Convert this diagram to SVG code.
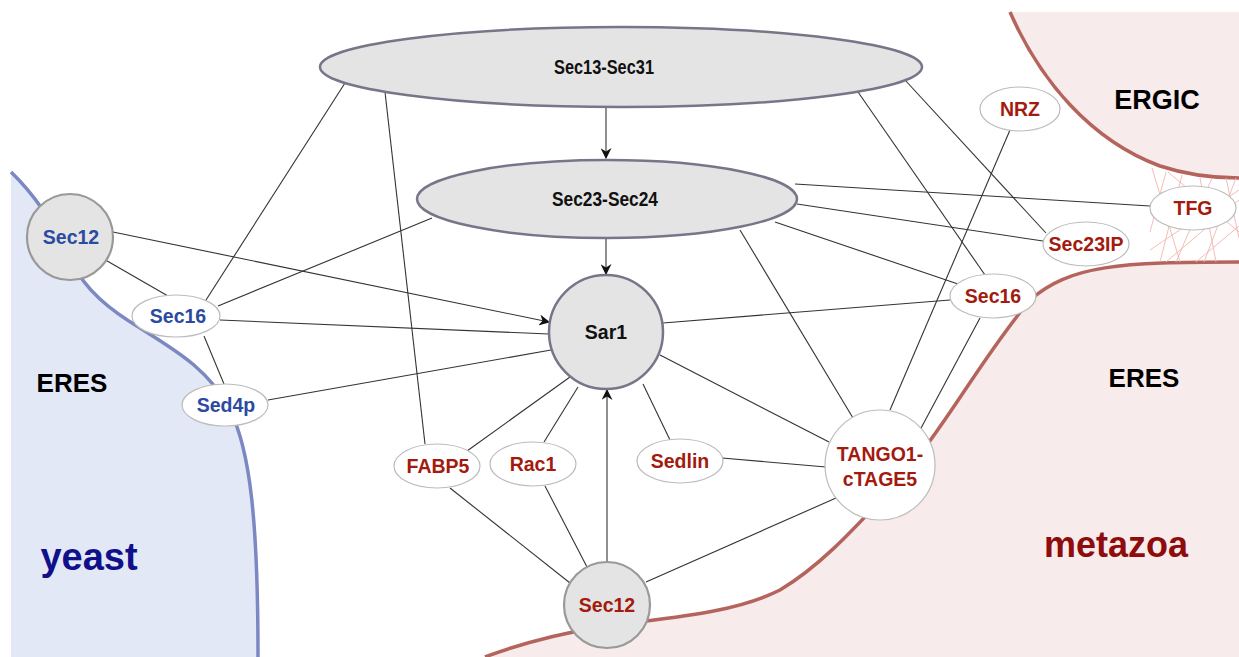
<svg xmlns="http://www.w3.org/2000/svg" width="1239" height="657" viewBox="0 0 1239 657">
<style>
.fill-y{fill:#e3e8f6;stroke:none}
.fill-m{fill:#f7ebec;stroke:none}
.line-y{fill:none;stroke:#7b88c2;stroke-width:3.5}
.line-m{fill:none;stroke:#b5645d;stroke-width:3.5}
.hatch line{stroke:#f2b6ae;stroke-width:0.9}
.edges line{stroke:#333;stroke-width:1.1}
.big{fill:#e4e4e4;stroke:#767688;stroke-width:2.5}
.circ{fill:#e4e4e4;stroke:#999;stroke-width:2.2}
.white{fill:#fff;stroke:#bcbcbc;stroke-width:1.2}
text{font-family:"Liberation Sans",Arial,sans-serif;font-weight:bold;text-anchor:middle}
.lbl{font-size:19.5px}
.blbl{font-size:19.5px}
.k{fill:#111}
.b{fill:#2b4aa0}
.r{fill:#a31a0e}
.area{font-size:26px;fill:#000}
</style>
<defs>
<marker id="arr" viewBox="0 0 10 10" refX="9" refY="5" markerWidth="11" markerHeight="11" markerUnits="userSpaceOnUse" orient="auto">
<path d="M0,0 L10,5 L0,10 L3,5 Z" fill="#111"/>
</marker>
</defs>
<rect width="1239" height="657" fill="#fff"/>
<g id="regions">
<path class="fill-y" d="M11,172 C35,195 55,225 72,262 C85,290 110,310 140,328 C175,350 210,370 230,410 C250,450 258,520 258,657 L11,657 Z"/>
<path class="line-y" d="M11,172 C35,195 55,225 72,262 C85,290 110,310 140,328 C175,350 210,370 230,410 C250,450 258,520 258,657"/>
<path class="fill-m" d="M485,657 C530,640 570,632 600,627 C660,618 730,615 780,590 C830,560 870,510 900,480 C950,420 980,360 1030,300 C1070,265 1120,262 1239,262 L1239,657 Z"/>
<path class="line-m" d="M485,657 C530,640 570,632 600,627 C660,618 730,615 780,590 C830,560 870,510 900,480 C950,420 980,360 1030,300 C1070,265 1120,262 1239,262"/>
<path class="fill-m" d="M1010,12 C1040,80 1090,140 1160,166 C1190,176 1215,178 1239,178 L1239,12 Z"/>
<path class="line-m" d="M1010,12 C1040,80 1090,140 1160,166 C1190,176 1215,178 1239,178"/>
</g>
<g class="hatch" id="hatch">
<line x1="1152" y1="168" x2="1180" y2="262"/>
<line x1="1166" y1="172" x2="1150" y2="232"/>
<line x1="1182" y1="175" x2="1160" y2="262"/>
<line x1="1200" y1="178" x2="1216" y2="262"/>
<line x1="1212" y1="178" x2="1176" y2="262"/>
<line x1="1226" y1="178" x2="1239" y2="238"/>
<line x1="1239" y1="200" x2="1166" y2="262"/>
<line x1="1239" y1="226" x2="1196" y2="262"/>
<line x1="1168" y1="172" x2="1239" y2="232"/>
<line x1="1236" y1="178" x2="1204" y2="262"/>
<line x1="1150" y1="250" x2="1239" y2="190"/>
</g>
<g class="edges" id="connectors">
<line x1="345" y1="83" x2="206" y2="300"/>
<line x1="385" y1="92" x2="425" y2="444"/>
<line x1="606" y1="107" x2="606" y2="158" marker-end="url(#arr)"/>
<line x1="858" y1="92" x2="985" y2="275"/>
<line x1="905" y1="80" x2="1046" y2="233"/>
<line x1="606" y1="238" x2="606" y2="274" marker-end="url(#arr)"/>
<line x1="432" y1="218" x2="218" y2="306"/>
<line x1="795" y1="184" x2="1150" y2="206"/>
<line x1="797" y1="204" x2="1043" y2="241"/>
<line x1="775" y1="222" x2="958" y2="284"/>
<line x1="740" y1="230" x2="853" y2="418"/>
<line x1="113" y1="232" x2="549" y2="322" marker-end="url(#arr)"/>
<line x1="102" y1="258" x2="168" y2="296"/>
<line x1="220" y1="320" x2="549" y2="334"/>
<line x1="204" y1="336" x2="224" y2="384"/>
<line x1="268" y1="400" x2="551" y2="350"/>
<line x1="570" y1="377" x2="467" y2="451"/>
<line x1="578" y1="387" x2="544" y2="442"/>
<line x1="643" y1="384" x2="670" y2="440"/>
<line x1="660" y1="355" x2="829" y2="442"/>
<line x1="663" y1="323" x2="950" y2="300"/>
<line x1="607" y1="562" x2="607" y2="390" marker-end="url(#arr)"/>
<line x1="570" y1="583" x2="450" y2="488"/>
<line x1="587" y1="567" x2="545" y2="486"/>
<line x1="646" y1="582" x2="836" y2="498"/>
<line x1="722" y1="458" x2="826" y2="467"/>
<line x1="890" y1="410" x2="1010" y2="130"/>
<line x1="920" y1="430" x2="980" y2="318"/>
</g>
<g id="n-sec13-sec31"><ellipse class="big" cx="621" cy="67" rx="301" ry="40"/><text class="blbl k" x="604" y="74" textLength="100" lengthAdjust="spacingAndGlyphs">Sec13-Sec31</text></g>
<g id="n-sec23-sec24"><ellipse class="big" cx="607" cy="199" rx="190" ry="39"/><text class="blbl k" x="605" y="206" textLength="106" lengthAdjust="spacingAndGlyphs">Sec23-Sec24</text></g>
<g id="n-sar1"><circle class="big" cx="606" cy="332" r="57"/><text class="lbl k" x="606" y="339">Sar1</text></g>
<g id="n-sec12-yeast"><circle class="circ" cx="70" cy="237" r="43"/><text class="lbl b" x="71" y="244">Sec12</text></g>
<g id="n-sec16-yeast"><ellipse class="white" cx="176" cy="316" rx="44" ry="21"/><text class="lbl b" x="178" y="323">Sec16</text></g>
<g id="n-sed4p"><ellipse class="white" cx="225" cy="405" rx="43" ry="21"/><text class="lbl b" x="226" y="412">Sed4p</text></g>
<g id="n-fabp5"><ellipse class="white" cx="437" cy="466" rx="43" ry="22"/><text class="lbl r" x="438" y="473">FABP5</text></g>
<g id="n-rac1"><ellipse class="white" cx="533" cy="464" rx="43" ry="22"/><text class="lbl r" x="533" y="471">Rac1</text></g>
<g id="n-sedlin"><ellipse class="white" cx="680" cy="461" rx="43" ry="22"/><text class="lbl r" x="680" y="468">Sedlin</text></g>
<g id="n-tango1"><circle class="white" cx="880" cy="465" r="55"/><text class="lbl r" x="880" y="461">TANGO1-</text><text class="lbl r" x="880" y="486">cTAGE5</text></g>
<g id="n-sec12-meta"><circle class="circ" cx="607" cy="605" r="43"/><text class="lbl r" x="607" y="612">Sec12</text></g>
<g id="n-sec16-meta"><ellipse class="white" cx="993" cy="296" rx="43" ry="22"/><text class="lbl r" x="993" y="303">Sec16</text></g>
<g id="n-sec23ip"><ellipse class="white" cx="1086" cy="244" rx="43" ry="22"/><text class="lbl r" x="1086" y="251">Sec23IP</text></g>
<g id="n-tfg"><ellipse class="white" cx="1193" cy="208" rx="43" ry="22"/><text class="lbl r" x="1193" y="215">TFG</text></g>
<g id="n-nrz"><ellipse class="white" cx="1020" cy="109" rx="40" ry="22"/><text class="lbl r" x="1020" y="116">NRZ</text></g>
<g id="labels">
<text class="area" x="72" y="392">ERES</text>
<text class="area" x="1144" y="387">ERES</text>
<text class="area" x="1157" y="109" style="font-size:27px">ERGIC</text>
<text x="89" y="570" style="font-size:38px;fill:#10108a">yeast</text>
<text x="1116" y="557" style="font-size:36px;fill:#8e0c0c">metazoa</text>
</g>
</svg>
